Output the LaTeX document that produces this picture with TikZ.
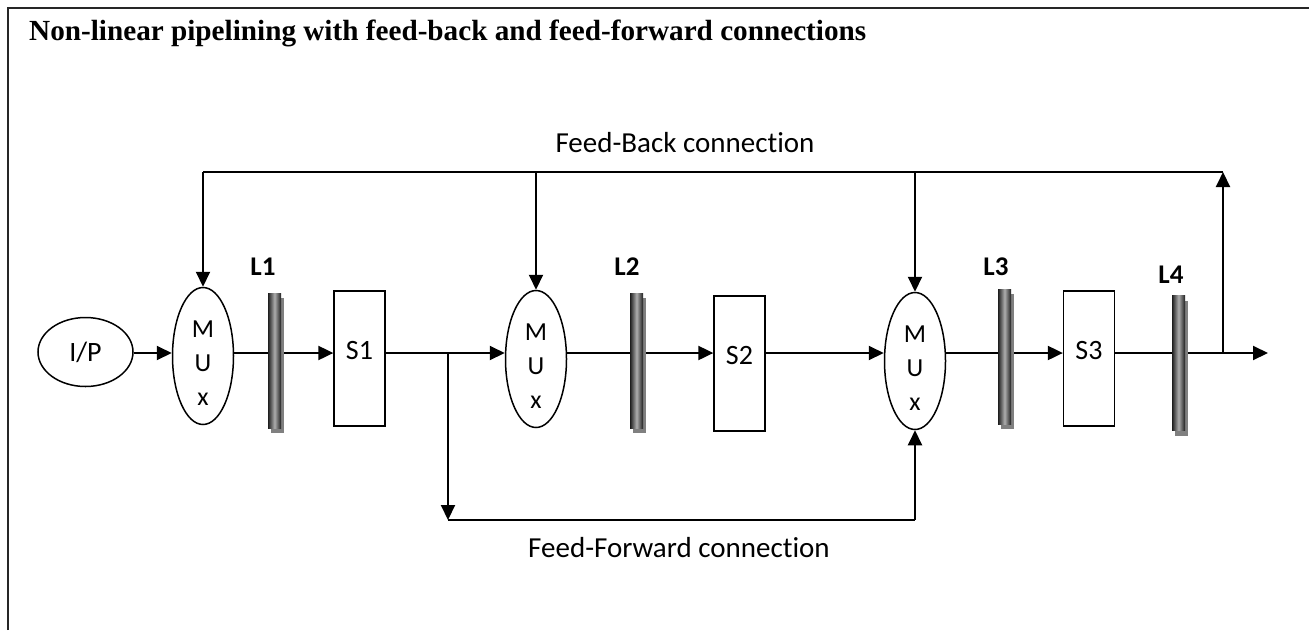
\documentclass[tikz,border=0pt]{standalone}
\usepackage{fontspec}
\setmainfont{Carlito}[Ligatures=NoCommon]
\newfontfamily\titlefont{Liberation Serif}
\usetikzlibrary{arrows.meta,shapes.geometric,shadows}
\begin{document}
\begin{tikzpicture}[x=1pt,y=-1pt,
  wire/.style={line width=2pt},
  arr/.style={wire,-{Triangle[length=15pt,width=14pt]}},
  mux/.style={ellipse,draw,line width=1.5pt,minimum width=61pt,minimum height=137pt,inner sep=0pt},
  muxtxt/.style={inner sep=0pt,align=center,font=\fontsize{26}{34}\selectfont},
  io/.style={ellipse,draw,line width=1.5pt,minimum width=95pt,minimum height=69pt,
    inner sep=0pt,font=\fontsize{28}{30}\selectfont},
  stage/.style={rectangle,draw,line width=1.3pt,minimum width=51pt,minimum height=135pt,inner sep=0pt},
  stagetxt/.style={inner sep=0pt,font=\fontsize{28}{30}\selectfont},
  latch/.style={rectangle,minimum width=13pt,minimum height=135pt,inner sep=0pt,
    left color=black!88,right color=black!88,middle color=black!32,
    drop shadow={shadow xshift=2.5pt,shadow yshift=-5pt,fill=black!50,opacity=1}},
  latchlbl/.style={inner sep=0pt,font=\bfseries\fontsize{27}{30}\selectfont},
  conn/.style={inner sep=0pt,anchor=base,font=\fontsize{29}{32}\selectfont}
]
\useasboundingbox (0,0) rectangle (1309,630);

% outer frame (left and top edges)
\draw[line width=1.8pt,black!85] (8,630) -- (8,8) -- (1309,8);

% title
\node[anchor=base west,inner sep=0pt,font=\titlefont\bfseries\fontsize{29.2}{32}\selectfont]
  (title) at (29,40) {Non-linear pipelining with feed-back and feed-forward connections};

% main data-path row
\coordinate (row) at (0,353);

% blocks
\node[io]  (ip)   at (85.5,352) {I/P};
\node[mux] (mux1) at (203,356) {};
\node[muxtxt] (mux1t) at ([yshift=-7.5pt]mux1.center) {M\\U\\x};
\node[stage] (s1) at (359.5,358.5) {};
\node[stagetxt] (s1t) at ([yshift=8pt]s1.center) {S1};
\node[mux] (mux2) at (536,359) {};
\node[muxtxt] (mux2t) at ([yshift=-7.5pt]mux2.center) {M\\U\\x};
\node[stage] (s2) at (739.5,363.5) {};
\node[stagetxt] (s2t) at ([yshift=8pt]s2.center) {S2};
\node[mux] (mux3) at (915,361) {};
\node[muxtxt] (mux3t) at ([yshift=-7.5pt]mux3.center) {M\\U\\x};
\node[stage] (s3) at (1089,358.5) {};
\node[stagetxt] (s3t) at ([yshift=8pt]s3.center) {S3};

% forward wires along the row
\draw[arr] (ip.east |- row) -- (mux1.west |- row);
\draw[arr] (mux1.east |- row) -- (s1.west |- row);
\draw[arr] (s1.east |- row) -- (mux2.west |- row);
\draw[arr] (mux2.east |- row) -- (s2.west |- row);
\draw[arr] (s2.east |- row) -- (mux3.west |- row);
\draw[arr] (mux3.east |- row) -- (s3.west |- row);
\coordinate (out) at (1268,353);
\draw[arr] (s3.east |- row) -- (out);

% feed-forward path
\coordinate (ffa) at (448,353);
\coordinate (ffb) at (448,520);
\coordinate (ffc) at (mux3.south |- ffb);
\draw[arr] (ffa) -- (ffb);
\draw[wire] (ffb) -- (ffc);
\draw[arr] (ffc) -- (mux3.south);
\node[conn] (fflbl) at (679,557) {Feed-Forward connection};

% feed-back path
\coordinate (fba) at (1223,353);
\coordinate (fbb) at (1223,172);
\draw[arr] (fba) -- (fbb);
\draw[line width=1.7pt] (fbb) -- (fbb -| mux1.north);
\draw[arr] (fbb -| mux1.north) -- (mux1.north);
\draw[arr] (fbb -| mux2.north) -- (mux2.north);
\draw[arr] (fbb -| mux3.north) -- (mux3.north);
\node[conn] (fblbl) at (685,152) {Feed-Back connection};

% latches
\node[latch] (l1) at (274.5,360.5) {};
\node[latch] (l2) at (636.5,360.5) {};
\node[latch] (l3) at (1004.5,356.5) {};
\node[latch] (l4) at (1178.5,363) {};
\node[latchlbl] (l1t) at (263,267) {L1};
\node[latchlbl] (l2t) at (627,267) {L2};
\node[latchlbl] (l3t) at (996,267) {L3};
\node[latchlbl] (l4t) at (1171,275) {L4};
\end{tikzpicture}
\end{document}
